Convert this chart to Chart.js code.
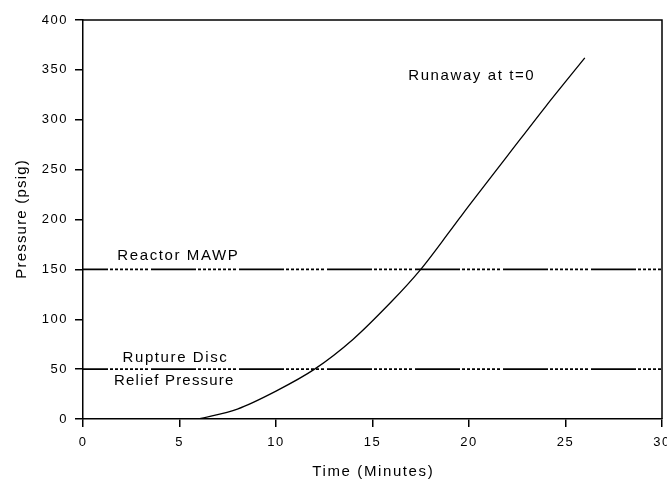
<!DOCTYPE html>
<html>
<head>
<meta charset="utf-8">
<script src="https://cdn.jsdelivr.net/npm/chart.js@4/dist/chart.umd.min.js"></script>
<style>
  html, body { margin: 0; padding: 0; background: #fff; }
  #wrap { width: 667px; height: 481px; }
</style>
</head>
<body>
<div id="wrap"><canvas id="chart"></canvas></div>
<script>
// runaway pressure curve
const timeMin = [6, 8, 10, 12, 14, 16, 17.5, 19, 20, 22, 24, 26];
const pressure = [0, 10, 28, 50, 80, 118, 150, 188, 214, 264, 314, 362];

// horizontal reference pressures
const mawp = 150;
const ruptureDisc = 50;
const xRange = [0, 30];

const xTicks = [0, 5, 10, 15, 20, 25, 30];
const yTicks = [0, 50, 100, 150, 200, 250, 300, 350, 400];

const FONT = "'Liberation Sans', Arial, sans-serif";
const dashDot = [45, 2, 3, 2, 3, 2, 3, 2, 3, 2, 3, 2, 3, 2, 3, 2, 3, 3];

function label(ctx, text, x, y, spacing) {
  ctx.save();
  ctx.letterSpacing = spacing + "px";
  ctx.fillText(text, x + spacing / 2, y);
  ctx.restore();
}

const textPlugin = {
  id: "notes",
  beforeLayout(chart) {
    chart.ctx.letterSpacing = "1.5px";
  },
  afterDraw(chart) {
    const { ctx, chartArea, scales } = chart;
    const x = scales.x, y = scales.y;
    ctx.save();
    // box around plot
    ctx.strokeStyle = "#000";
    ctx.lineWidth = 1.5;
    ctx.beginPath();
    ctx.moveTo(chartArea.left, chartArea.top);
    ctx.lineTo(chartArea.right, chartArea.top);
    ctx.lineTo(chartArea.right, chartArea.bottom);
    ctx.stroke();

    ctx.fillStyle = "#000";
    ctx.font = "15px " + FONT;
    ctx.textAlign = "center";
    ctx.textBaseline = "middle";
    label(ctx, "Reactor MAWP", x.getPixelForValue(4.9), y.getPixelForValue(mawp) - 14, 1.6);
    label(ctx, "Rupture Disc", x.getPixelForValue(4.75), y.getPixelForValue(ruptureDisc) - 11, 1.6);
    label(ctx, "Relief Pressure", x.getPixelForValue(4.7), y.getPixelForValue(ruptureDisc) + 12, 1.2);
    label(ctx, "Runaway at t=0", x.getPixelForValue(20.1), y.getPixelForValue(344), 1.6);
    label(ctx, "Time (Minutes)", (chartArea.left + chartArea.right) / 2, chartArea.bottom + 53, 1.6);

    ctx.translate(22, (chartArea.top + chartArea.bottom) / 2);
    ctx.rotate(-Math.PI / 2);
    label(ctx, "Pressure (psig)", 0, 0, 1.2);
    ctx.restore();
  }
};

new Chart(document.getElementById("chart").getContext("2d"), {
  type: "line",
  data: {
    datasets: [
      {
        data: timeMin.map((t, i) => ({ x: t, y: pressure[i] })),
        borderColor: "#000",
        borderWidth: 1.3,
        pointRadius: 0,
        tension: 0.3,
        fill: false
      },
      {
        data: xRange.map(t => ({ x: t, y: mawp })),
        borderColor: "#000",
        borderWidth: 1.6,
        borderDash: dashDot,
        borderDashOffset: 20,
        pointRadius: 0,
        fill: false
      },
      {
        data: xRange.map(t => ({ x: t, y: ruptureDisc })),
        borderColor: "#000",
        borderWidth: 1.6,
        borderDash: dashDot,
        borderDashOffset: 20,
        pointRadius: 0,
        fill: false
      }
    ]
  },
  options: {
    responsive: true,
    maintainAspectRatio: false,
    animation: false,
    layout: { padding: { top: 20, right: 5, left: 0, bottom: 0 } },
    plugins: { legend: { display: false }, tooltip: { enabled: false } },
    scales: {
      x: {
        type: "linear",
        min: 0,
        max: 30,
        afterBuildTicks: s => { s.ticks = xTicks.map(v => ({ value: v })); },
        afterFit: s => { s.height = 62; s.paddingLeft = 0; s.paddingRight = 0; },
        grid: { display: true, drawOnChartArea: false, drawTicks: true, tickLength: 8, color: "#000", lineWidth: 1.5 },
        border: { display: true, color: "#000", width: 1.5 },
        ticks: { color: "#000", font: { family: FONT, size: 13 }, padding: 8, maxRotation: 0 }
      },
      y: {
        min: 0,
        max: 400,
        afterBuildTicks: s => { s.ticks = yTicks.map(v => ({ value: v })); },
        afterFit: s => { s.width = 83; s.paddingTop = 0; s.paddingBottom = 0; },
        grid: { display: true, drawOnChartArea: false, drawTicks: true, tickLength: 8, color: "#000", lineWidth: 1.5 },
        border: { display: true, color: "#000", width: 1.5 },
        ticks: { color: "#000", font: { family: FONT, size: 13 }, padding: 7 }
      }
    }
  },
  plugins: [textPlugin]
});
</script>
</body>
</html>
